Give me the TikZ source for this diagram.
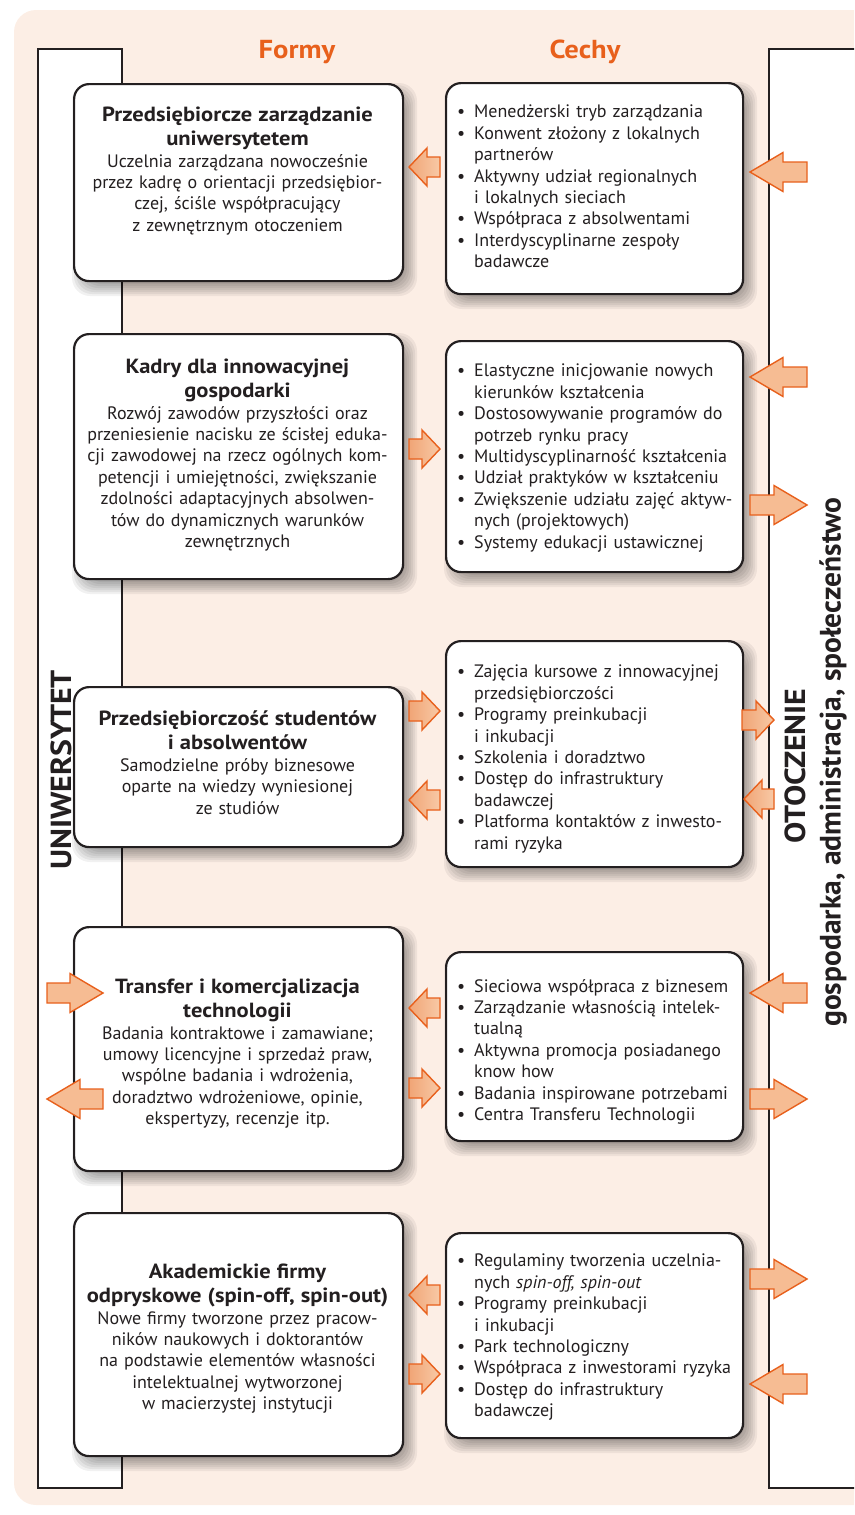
\documentclass[tikz,border=0pt]{standalone}
\usepackage{fontspec}
\setmainfont{PT Sans}
\newfontfamily\wfont{PT Sans}[FakeStretch=1.1]
\setlength\parindent{0pt}
\definecolor{bgc}{HTML}{FCEEE5}
\definecolor{orng}{HTML}{E8601C}
\definecolor{arrf}{HTML}{F6BC93}
\definecolor{arrd}{HTML}{F0A576}
\definecolor{arrl}{HTML}{F8C9A6}
\definecolor{txt}{HTML}{231F20}
\newcommand\bl{\makebox[17pt][l]{\textbullet}}
\newcommand\ind{\hspace*{17pt}}
\newcommand\ttl[1]{{\wfont\bfseries\fontsize{20.5}{24}\selectfont #1\par}}
\newcommand\sshadow[4]{\foreach \e in {-6,-4,...,8}{\fill[black,opacity=0.055,rounded corners=18pt] (#1+7-\e,#2+8-\e) rectangle (#3+7+\e,#4+8+\e);}}
\newcommand\rarr[6][arrst]{\draw[#1] (#2,#4-10) -- (#3-#6,#4-10) -- (#3-#6,#4-#5/2) -- (#3,#4) -- (#3-#6,#4+#5/2) -- (#3-#6,#4+10) -- (#2,#4+10) -- cycle;}
\newcommand\larr[6][arrst]{\draw[#1] (#3,#4-10) -- (#2+#6,#4-10) -- (#2+#6,#4-#5/2) -- (#2,#4) -- (#2+#6,#4+#5/2) -- (#2+#6,#4+10) -- (#3,#4+10) -- cycle;}
\tikzset{
  boxst/.style={draw=txt, line width=2.2pt, fill=white, rounded corners=15pt, inner sep=0pt, anchor=north west},
  ftext/.style={text=txt, text width=325pt, align=center, anchor=north, inner sep=0pt, font=\fontsize{18}{21.4}\selectfont},
  ctext/.style={text=txt, text width=290pt, align=left, anchor=north west, inner sep=0pt, font=\fontsize{18}{21.4}\selectfont},
  arrst/.style={draw=orng, line width=1.4pt, fill=arrf, line join=miter},
  sarr/.style={arrst, left color=arrd, right color=arrl},
  panel/.style={draw=txt, line width=2pt, fill=white},
  head/.style={text=orng, font=\wfont\bfseries\fontsize{26}{26}\selectfont},
  vlab/.style={text=txt, rotate=90, font=\wfont\bfseries\fontsize{29}{29}\selectfont},
  vlabb/.style={text=txt, rotate=90, font=\bfseries\fontsize{29.5}{29.5}\selectfont}
}
\begin{document}
\begin{tikzpicture}[x=1pt,y=-1pt]
\useasboundingbox (0,0) rectangle (854,1515);
\begin{scope}
\clip (0,0) rectangle (854,1515);
\fill[bgc, rounded corners=22pt] (14,10) rectangle (900,1505);
\draw[panel] (38,49) rectangle (122,1488);
\draw[panel] (769,49) rectangle (900,1488);

\node[vlab] (uni) at (61,770) {UNIWERSYTET};
\node[vlab] (oto) at (795,766) {OTOCZENIE};
\node[vlabb] (gos) at (833,762) {gospodarka, administracja, społeczeństwo};

\node[head] (formy) at (297,52) {Formy};
\node[head] (cechy) at (585,52) {Cechy};

% shadows
\sshadow{73}{83}{402}{280}
\sshadow{73}{333}{402}{578}
\sshadow{73}{686}{402}{846}
\sshadow{73}{926}{402}{1170}
\sshadow{73}{1212}{402}{1455}
\sshadow{445}{82}{742}{293}
\sshadow{445}{340}{742}{571}
\sshadow{445}{640}{742}{866}
\sshadow{445}{951}{742}{1140}
\sshadow{445}{1232}{742}{1437}

% Formy boxes
\node[boxst, minimum width=329pt, minimum height=197pt] (f1) at (73,83) {};
\node[boxst, minimum width=329pt, minimum height=245pt] (f2) at (73,333) {};
\node[boxst, minimum width=329pt, minimum height=160pt] (f3) at (73,686) {};
\node[boxst, minimum width=329pt, minimum height=244pt] (f4) at (73,926) {};
\node[boxst, minimum width=329pt, minimum height=243pt] (f5) at (73,1212) {};
% Cechy boxes
\node[boxst, minimum width=297pt, minimum height=211pt] (c1) at (445,82) {};
\node[boxst, minimum width=297pt, minimum height=231pt] (c2) at (445,340) {};
\node[boxst, minimum width=297pt, minimum height=226pt] (c3) at (445,640) {};
\node[boxst, minimum width=297pt, minimum height=189pt] (c4) at (445,951) {};
\node[boxst, minimum width=297pt, minimum height=205pt] (c5) at (445,1232) {};

\node[ftext] (f1t) at (237.5,107) {\ttl{Przedsiębiorcze zarządzanie\\uniwersytetem}Uczelnia zarządzana nowocześnie\\przez kadrę o orientacji przedsiębior-\\czej, ściśle współpracujący\\z zewnętrznym otoczeniem};
\node[ftext] (f2t) at (237.5,359) {\ttl{Kadry dla innowacyjnej\\gospodarki}Rozwój zawodów przyszłości oraz\\przeniesienie nacisku ze ścisłej eduka-\\cji zawodowej na rzecz ogólnych kom-\\petencji i umiejętności, zwiększanie\\zdolności adaptacyjnych absolwen-\\tów do dynamicznych warunków\\zewnętrznych};
\node[ftext] (f3t) at (237.5,711) {\ttl{Przedsiębiorczość studentów\\i absolwentów}Samodzielne próby biznesowe\\oparte na wiedzy wyniesionej\\ze studiów};
\node[ftext] (f4t) at (237.5,979) {\ttl{Transfer i komercjalizacja\\technologii}Badania kontraktowe i zamawiane;\\umowy licencyjne i sprzedaż praw,\\wspólne badania i wdrożenia,\\doradztwo wdrożeniowe, opinie,\\ekspertyzy, recenzje itp.};
\node[ftext] (f5t) at (237.5,1264) {\ttl{Akademickie firmy\\odpryskowe (spin-off, spin-out)}Nowe firmy tworzone przez pracow-\\ników naukowych i doktorantów\\na podstawie elementów własności\\intelektualnej wytworzonej\\w macierzystej instytucji};

\node[ctext] (c1t) at (457,105) {\bl Menedżerski tryb zarządzania\\\bl Konwent złożony z lokalnych\\\ind partnerów\\\bl Aktywny udział regionalnych\\\ind i lokalnych sieciach\\\bl Współpraca z absolwentami\\\bl Interdyscyplinarne zespoły\\\ind badawcze};
\node[ctext] (c2t) at (457,364) {\bl Elastyczne inicjowanie nowych\\\ind kierunków kształcenia\\\bl Dostosowywanie programów do\\\ind potrzeb rynku pracy\\\bl Multidyscyplinarność kształcenia\\\bl Udział praktyków w kształceniu\\\bl Zwiększenie udziału zajęć aktyw-\\\ind nych (projektowych)\\\bl Systemy edukacji ustawicznej};
\node[ctext] (c3t) at (457,665) {\bl Zajęcia kursowe z innowacyjnej\\\ind przedsiębiorczości\\\bl Programy preinkubacji\\\ind i inkubacji\\\bl Szkolenia i doradztwo\\\bl Dostęp do infrastruktury\\\ind badawczej\\\bl Platforma kontaktów z inwesto-\\\ind rami ryzyka};
\node[ctext] (c4t) at (457,979) {\bl Sieciowa współpraca z biznesem\\\bl Zarządzanie własnością intelek-\\\ind tualną\\\bl Aktywna promocja posiadanego\\\ind know how\\\bl Badania inspirowane potrzebami\\\bl Centra Transferu Technologii};
\node[ctext] (c5t) at (457,1254) {\bl Regulaminy tworzenia uczelnia-\\\ind nych \textit{spin-off, spin-out}\\\bl Programy preinkubacji\\\ind i inkubacji\\\bl Park technologiczny\\\bl Współpraca z inwestorami ryzyka\\\bl Dostęp do infrastruktury\\\ind badawczej};

% middle small arrows
\larr[sarr]{409}{440}{167}{38}{18}
\rarr[sarr]{409}{440}{449}{38}{18}
\rarr[sarr]{409}{440}{711}{38}{18}
\larr[sarr]{409}{440}{800}{38}{18}
\larr[sarr]{409}{440}{1008}{38}{18}
\rarr[sarr]{409}{440}{1088}{38}{18}
\larr[sarr]{409}{440}{1295}{38}{18}
\rarr[sarr]{409}{440}{1374}{38}{18}
% right arrows
\larr{750}{807}{172}{39}{33}
\larr{750}{807}{377}{39}{33}
\rarr{750}{807}{505}{39}{33}
\rarr[sarr]{742}{774}{720}{38}{18}
\larr[sarr]{744}{774}{799}{38}{18}
\larr{750}{807}{993}{39}{33}
\rarr{750}{807}{1099}{39}{33}
\rarr{750}{807}{1279}{39}{33}
\larr{750}{807}{1384}{39}{33}
% left arrows
\rarr{47}{103}{993}{39}{33}
\larr{47}{103}{1099}{39}{33}
\end{scope}
\end{tikzpicture}
\end{document}
